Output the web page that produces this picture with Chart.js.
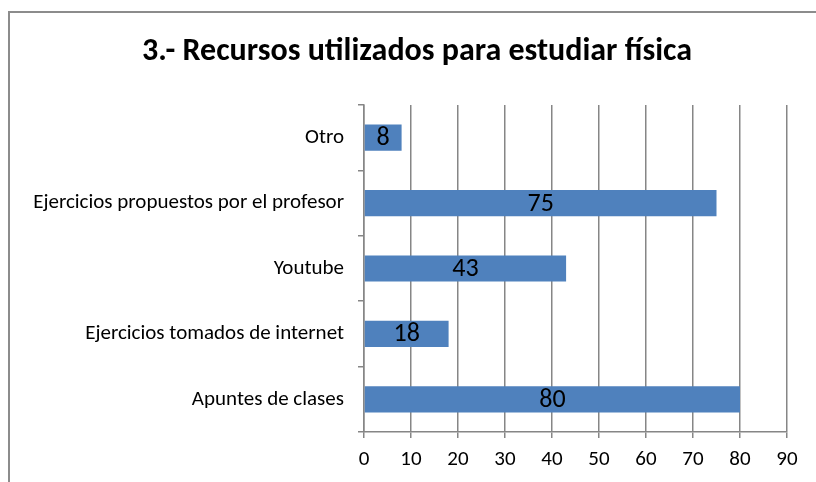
<!DOCTYPE html>
<html>
<head>
<meta charset="utf-8">
<script src="https://cdn.jsdelivr.net/npm/chart.js@4"></script>
<style>
  html, body { margin: 0; padding: 0; background: #fff; overflow: hidden; }
  #wrap { position: relative; width: 816px; height: 482px; }
  #frame { position: absolute; left: 8px; top: 11px; width: 900px; height: 600px;
           border: 2px solid #8c8c8c; box-sizing: border-box; }
  canvas { position: absolute; left: 0; top: 0; }
</style>
</head>
<body>
<div id="wrap">
  <div id="frame"></div>
  <canvas id="chart" width="816" height="482"></canvas>
</div>
<script>
  const titleText  = '3.- Recursos utilizados para estudiar física';
  const categories = ['Otro', 'Ejercicios propuestos por el profesor', 'Youtube', 'Ejercicios tomados de internet', 'Apuntes de clases'];
  const values     = [8, 75, 43, 18, 80];
  const xTicks     = [0, 10, 20, 30, 40, 50, 60, 70, 80, 90];

  const FONT = 'Carlito, Calibri, "Liberation Sans", sans-serif';

  // title sits centred on the whole frame, not on the plot, so draw it here
  const frameTitle = {
    id: 'frameTitle',
    afterDraw(chart) {
      const ctx = chart.ctx;
      ctx.save();
      ctx.font = 'bold 32px ' + FONT;
      ctx.fillStyle = '#000';
      ctx.textAlign = 'center';
      ctx.textBaseline = 'middle';
      ctx.fillText(titleText, 417, 52);
      ctx.restore();
    }
  };

  // value labels centred inside each bar
  const barLabels = {
    id: 'barLabels',
    afterDatasetsDraw(chart) {
      const ctx = chart.ctx;
      const meta = chart.getDatasetMeta(0);
      ctx.save();
      ctx.font = '26px ' + FONT;
      ctx.fillStyle = '#000';
      ctx.textAlign = 'center';
      ctx.textBaseline = 'middle';
      meta.data.forEach((bar, i) => {
        const p = bar.getProps(['x', 'y', 'base'], true);
        ctx.fillText(String(values[i]), (p.x + p.base) / 2, p.y + 1);
      });
      ctx.restore();
    }
  };

  new Chart(document.getElementById('chart'), {
    type: 'bar',
    data: {
      labels: categories,
      datasets: [{
        data: values,
        backgroundColor: '#4f81bd',
        borderWidth: 0,
        barPercentage: 0.4,
        categoryPercentage: 1
      }]
    },
    options: {
      indexAxis: 'y',
      responsive: false,
      animation: false,
      layout: { padding: { left: 0, right: 29, top: 105, bottom: 0 } },
      plugins: {
        legend: { display: false },
        tooltip: { enabled: false },
        title: { display: false }
      },
      scales: {
        x: {
          min: 0, max: 90,
          afterBuildTicks: s => { s.ticks = xTicks.map(v => ({ value: v })); },
          afterFit: s => { s.height = 50; },
          grid: { color: '#868686', lineWidth: 1.5, tickLength: 6 },
          border: { color: '#868686', width: 1.5 },
          ticks: { color: '#000', padding: 9, font: { family: FONT, size: 21 } }
        },
        y: {
          afterFit: s => { s.width = 364; },
          grid: { offset: true, drawOnChartArea: false, color: '#868686', lineWidth: 1.5, tickLength: 6 },
          border: { color: '#868686', width: 1.5 },
          ticks: { color: '#000', padding: 14, font: { family: FONT, size: 21 } }
        }
      }
    },
    plugins: [barLabels, frameTitle]
  });
</script>
</body>
</html>
